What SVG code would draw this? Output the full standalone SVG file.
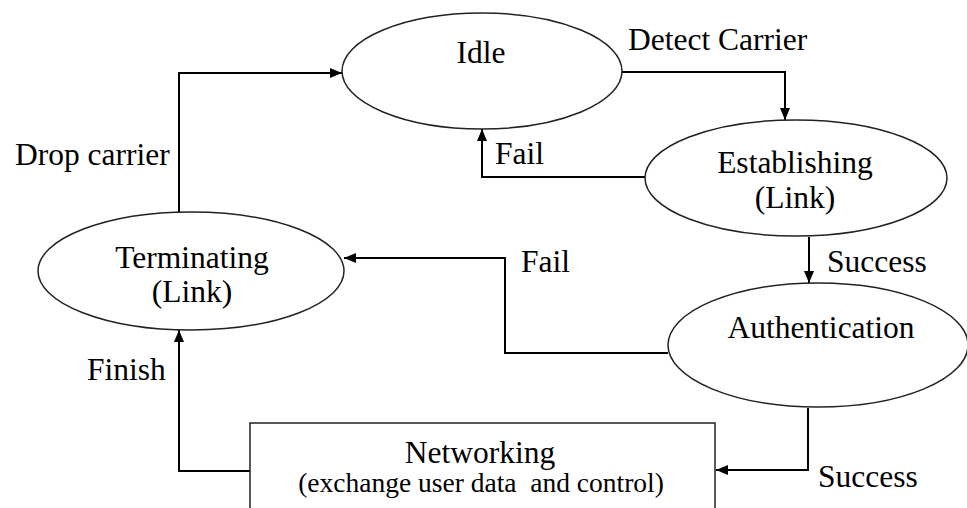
<svg xmlns="http://www.w3.org/2000/svg" width="967" height="508" viewBox="0 0 967 508">
<style>
.node{fill:#fff;stroke:#222;stroke-width:1.5}
.t{font-family:'Liberation Serif','Tinos','Times New Roman',serif;font-size:31.5px;fill:#000}
.c{text-anchor:middle}
.s{font-size:27.5px}
.conn{fill:none;stroke:#000;stroke-width:2}
</style>
<defs>
<marker id="arr" viewBox="0 0 12 10" refX="12" refY="5" markerWidth="12" markerHeight="10" markerUnits="userSpaceOnUse" orient="auto">
<path d="M0,0 L12,5 L0,10 z" fill="#000"/>
</marker>
</defs>
<rect width="967" height="508" fill="#fff"/>
<g id="connectors">
<path class="conn" d="M622,72 H785 V120" marker-end="url(#arr)"/>
<path class="conn" d="M645,177 H482 V129" marker-end="url(#arr)"/>
<path class="conn" d="M809,237 V283" marker-end="url(#arr)"/>
<path class="conn" d="M668,353 H505 V258 H344" marker-end="url(#arr)"/>
<path class="conn" d="M179,213 V73 H342" marker-end="url(#arr)"/>
<path class="conn" d="M250,471 H179 V330" marker-end="url(#arr)"/>
<path class="conn" d="M808,408 V470 H716" marker-end="url(#arr)"/>
<text class="t" x="628" y="50">Detect Carrier</text>
<text class="t" x="495" y="164">Fail</text>
<text class="t" x="827" y="272">Success</text>
<text class="t" x="521" y="272">Fail</text>
<text class="t" x="15" y="165">Drop carrier</text>
<text class="t" x="87" y="380">Finish</text>
<text class="t" x="818" y="487">Success</text>
</g>
<g id="idle">
<ellipse class="node" cx="482" cy="71" rx="140" ry="58"/>
<text class="t c" x="481" y="63">Idle</text>
</g>
<g id="establishing">
<ellipse class="node" cx="796" cy="178" rx="151" ry="58"/>
<text class="t c" x="795" y="173">Establishing</text>
<text class="t c" x="795" y="208">(Link)</text>
</g>
<g id="terminating">
<ellipse class="node" cx="191" cy="271" rx="153" ry="59"/>
<text class="t c" x="192" y="268">Terminating</text>
<text class="t c" x="192" y="302">(Link)</text>
</g>
<g id="authentication">
<ellipse class="node" cx="818" cy="345" rx="150" ry="62"/>
<text class="t c" x="821" y="338">Authentication</text>
</g>
<g id="networking">
<rect class="node" x="250" y="423" width="465" height="100"/>
<text class="t c" x="480" y="463">Networking</text>
<text class="t c s" x="481" y="492" xml:space="preserve">(exchange user data  and control)</text>
</g>
</svg>
